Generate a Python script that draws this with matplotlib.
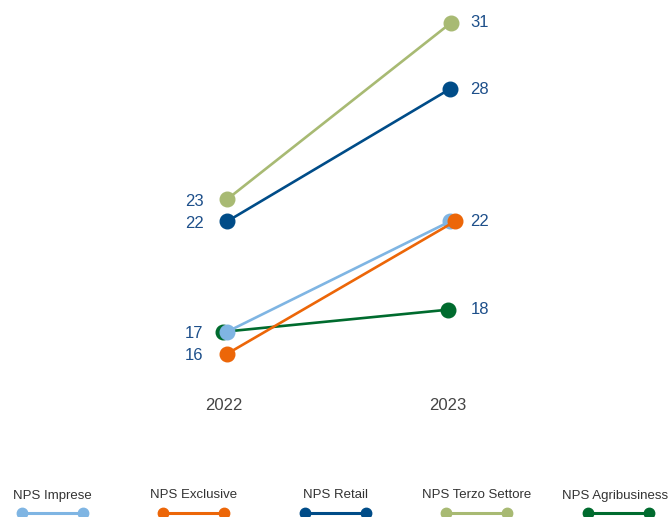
import matplotlib
matplotlib.use("Agg")
import matplotlib.pyplot as plt
from matplotlib.lines import Line2D

plt.rcParams['font.family'] = ['Liberation Sans', 'DejaVu Sans']

years = ["2022", "2023"]
series = ["NPS Imprese", "NPS Exclusive", "NPS Retail", "NPS Terzo Settore", "NPS Agribusiness"]
v2022 = [17, 16, 22, 23, 17]
v2023 = [22, 22, 28, 31, 18]
colors = ["#7fb5e3", "#ec6608", "#004c88", "#a8ba73", "#006b2e"]
# small horizontal dodge of overlapping markers
nudge22 = [0.0, 0.0, 0.0, 0.0, -0.017]
nudge23 = [-0.005, 0.017, -0.005, 0.0, -0.015]
draw_order = [4, 0, 1, 2, 3]
label_color = "#1d4f8a"

fig = plt.figure(figsize=(6.69, 5.17), dpi=100)
W, H = 669, 517

# main plot area (pixels): 2022 at x=227, 2023 at x=451
left_px, right_px, top_px, bot_px = 134, 535, 10, 380
ax = fig.add_axes([left_px / W, 1 - bot_px / H, (right_px - left_px) / W, (bot_px - top_px) / H])
ppu = 224
ax.set_xlim(-(227 - left_px) / ppu, 1 + (right_px - 451) / ppu)
ypu = 22.07
y0 = 707
ax.set_ylim((y0 - bot_px) / ypu, (y0 - top_px) / ypu)
ax.axis("off")

for i in draw_order:
    xs = [0 + nudge22[i], 1 + nudge23[i]]
    ax.plot(xs, [v2022[i], v2023[i]], color=colors[i], lw=1.9,
            marker="o", markersize=10.5, zorder=3)

# value labels
done_l, done_r = set(), set()
for i in range(len(series)):
    if v2022[i] not in done_l:
        done_l.add(v2022[i])
        ax.annotate(str(v2022[i]), (0, v2022[i]), xytext=(-17, -1.5), textcoords="offset points",
                    ha="right", va="center", fontsize=12, color=label_color)
    if v2023[i] not in done_r:
        done_r.add(v2023[i])
        ax.annotate(str(v2023[i]), (1, v2023[i]), xytext=(14, 0), textcoords="offset points",
                    ha="left", va="center", fontsize=12, color=label_color)

for k, yr in enumerate(years):
    ax.text(k - 0.015, (y0 - 406) / ypu, yr, ha="center", va="center", fontsize=12, color="#444444")

# legend: text above a line with markers at both ends
lax = fig.add_axes([0, 0, 1, 1], zorder=5)
lax.set_xlim(0, W)
lax.set_ylim(H, 0)
lax.axis("off")
centers = [52.5, 193.5, 335.5, 476.5, 618]
text_shift = [0, 0, 0, 0, -3]
for i, name in enumerate(series):
    c = centers[i]
    lax.add_line(Line2D([c - 30.5, c + 30.5], [513, 513], color=colors[i], lw=2.2,
                        marker="o", markersize=7.5))
    lax.text(c + text_shift[i], 495.5, name, ha="center", va="center", fontsize=9.5, color="#333333")

fig.savefig("out.png", dpi=100)
